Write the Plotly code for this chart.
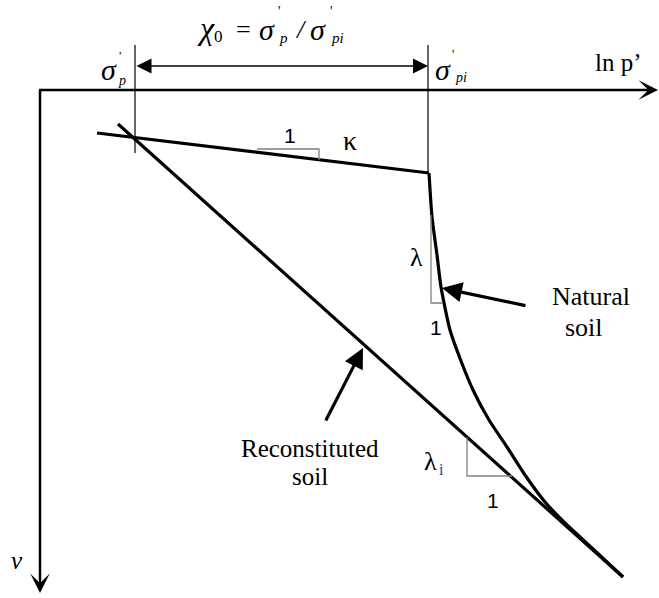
import plotly.graph_objects as go

W, H = 659, 598

# --- schematic data (drawing units: x to the right, y downward) ---
# unloading / swelling branch (slope kappa)
kappa_x = [97, 429]
kappa_y = [133, 173]
# intrinsic compression line of the reconstituted soil (slope lambda_i)
recon_x = [118, 623]
recon_y = [124, 577]
# compression curve of the natural soil after yield
natural_x = [429, 432, 437, 441, 450, 461, 473, 489, 507, 525, 545, 566, 592, 623]
natural_y = [173, 217, 255, 287, 330, 361, 390, 420, 447, 475, 502, 524, 548, 577]
# yield stresses on the ln p' axis
sigma_p_x = 135
sigma_pi_x = 428
axis_origin = (40, 90)

SERIF = "Liberation Serif"
SANS = "Liberation Sans"

fig = go.Figure()

def line(xs, ys, width, color="black"):
    fig.add_trace(go.Scatter(x=xs, y=ys, mode="lines",
                             line=dict(color=color, width=width, shape="linear"),
                             hoverinfo="skip", showlegend=False))

# curves
line(kappa_x, kappa_y, 3.2)
line(recon_x, recon_y, 3.2)
fig.add_trace(go.Scatter(x=natural_x, y=natural_y, mode="lines",
                         line=dict(color="black", width=3.2, shape="spline", smoothing=0.6),
                         hoverinfo="skip", showlegend=False))

# yield stress markers
line([sigma_p_x, sigma_p_x], [45, 153], 1.2)
line([sigma_pi_x, sigma_pi_x], [45, 173], 1.2)

# slope triangles
grey = "#808080"
line([257, 319, 319], [149, 149, 160], 1.3, grey)          # kappa
line([431, 431, 443], [215, 303, 303], 1.3, grey)          # lambda
line([467, 467, 512], [437, 476, 476], 1.3, grey)          # lambda_i

def arrow(x0, y0, x1, y1, width, head=2, size=1.0, both=False):
    fig.add_annotation(x=x1, y=y1, ax=x0, ay=y0, xref="x", yref="y",
                       axref="x", ayref="y", text="", showarrow=True,
                       arrowhead=head, arrowsize=size, arrowwidth=width,
                       arrowcolor="black", standoff=0, startstandoff=0,
                       arrowside="end+start" if both else "end",
                       startarrowhead=head, startarrowsize=size)

# axes
arrow(axis_origin[0], axis_origin[1], 658, axis_origin[1], 2.5, head=3, size=1.3)
arrow(axis_origin[0], axis_origin[1] - 1, axis_origin[0], 593, 2.5, head=3, size=1.3)
line([axis_origin[0] - 1, axis_origin[0] + 2], [axis_origin[1], axis_origin[1]], 2.5)

# chi_0 span
arrow(sigma_p_x, 66, sigma_pi_x, 66, 1.5, head=2, size=2.0, both=True)

# pointer arrows
arrow(527, 306, 442, 288, 3.2, head=2, size=1.25)
arrow(325, 422, 363, 348, 3.2, head=2, size=1.25)

def text(x, y, s, size, family=SERIF, italic=False, color="black", anchor="center"):
    if italic:
        s = "<i>" + s + "</i>"
    fig.add_annotation(x=x, y=y, xref="x", yref="y", text=s, showarrow=False,
                       xanchor=anchor, yanchor="middle",
                       font=dict(family=family, size=size, color=color))

# formula  chi_0 = sigma'_p / sigma'_pi
text(206, 28, "χ", 32, italic=True)
text(218, 36, "0", 17)
text(243, 29, "=", 26)
text(267, 29, "σ", 30, italic=True)
text(279, 11, "'", 14)
text(283, 38, "p", 15, italic=True)
text(301, 29, "/", 26, italic=True)
text(318, 29, "σ", 30, italic=True)
text(331, 11, "'", 14)
text(337, 38, "pi", 15, italic=True)

# yield stress labels
text(109, 69, "σ", 30, italic=True)
text(120, 55, "'", 13)
text(122, 80, "p", 14, italic=True)
text(443, 69, "σ", 30, italic=True)
text(453, 53, "'", 13)
text(461, 77, "pi", 14, italic=True)

# axis labels
text(618, 62, "ln p’", 25)
text(17, 560, "ν", 25, italic=True)

# slope labels
text(290, 135, "1", 21, family=SANS)
text(350, 140, "κ", 28)
text(416, 257, "λ", 26)
text(436, 327, "1", 21, family=SANS)
text(430, 461, "λ", 26)
text(441, 469, "i", 16, color="#1f3f9f")
text(493, 500, "1", 21, family=SANS)

# labels of the two soils
text(591, 296, "Natural", 26)
text(584, 327, "soil", 26)
text(310, 448, "Reconstituted", 25)
text(310, 476, "soil", 25)

fig.update_layout(width=W, height=H, margin=dict(l=0, r=0, t=0, b=0),
                  paper_bgcolor="white", plot_bgcolor="white", showlegend=False)
fig.update_xaxes(range=[0, W], visible=False, fixedrange=True)
fig.update_yaxes(range=[H, 0], visible=False, fixedrange=True)

fig.write_html("out.html")
